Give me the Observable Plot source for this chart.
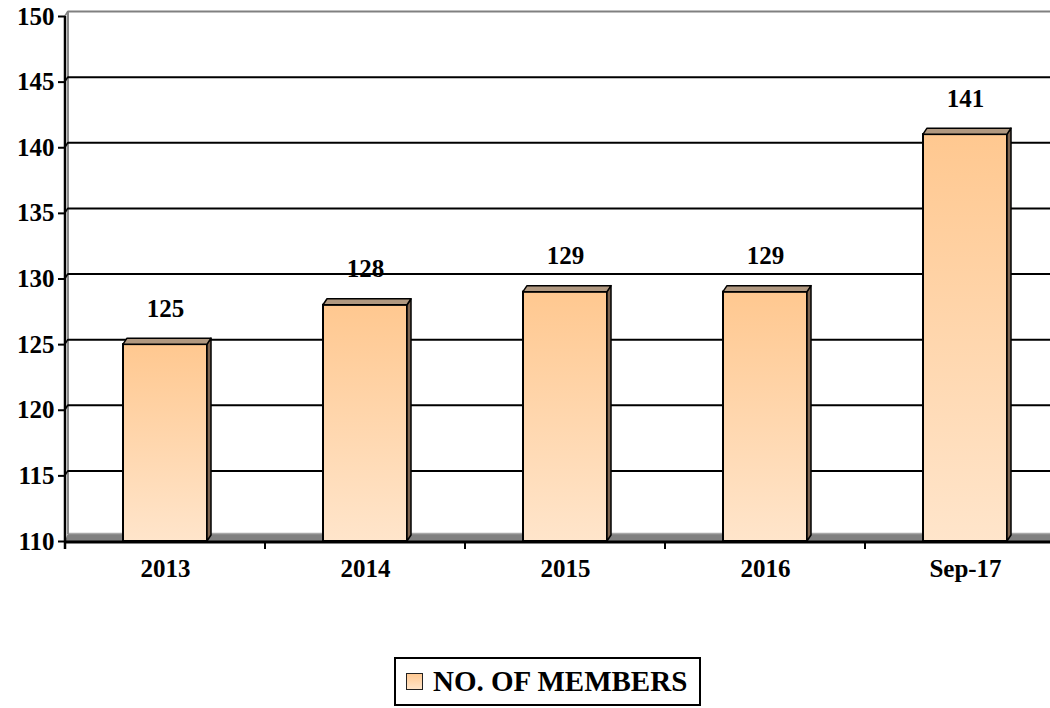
<!DOCTYPE html>
<html>
<head>
<meta charset="utf-8">
<script src="https://cdn.jsdelivr.net/npm/d3@7"></script>
<script src="https://cdn.jsdelivr.net/npm/@observablehq/plot@0.6"></script>
<style>
  html, body { margin: 0; padding: 0; background: #fff; }
  #wrap { position: relative; width: 1050px; height: 708px; overflow: hidden; }
  #wrap svg text { font-weight: bold; font-family: "Liberation Serif", "Times New Roman", serif; }
  #legend {
    position: absolute; left: 394px; top: 657px; width: 307px; height: 49px;
    box-sizing: border-box; border: 2px solid #000; background: #fff;
    font-family: "Liberation Serif", "Times New Roman", serif; font-weight: bold;
    font-size: 29px; color: #000; display: flex; align-items: center;
  }
  #legend .sw {
    width: 17px; height: 17px; box-sizing: border-box; margin-left: 10px; margin-right: 10px;
    border: 1.5px solid #222; background: linear-gradient(#ffc993, #ffe4c8);
  }
</style>
</head>
<body>
<div id="wrap"></div>
<script>
const categories = ["2013", "2014", "2015", "2016", "Sep-17"];
const members = [125, 128, 129, 129, 141];
const yTicks = [110, 115, 120, 125, 130, 135, 140, 145, 150];
const seriesName = "NO. OF MEMBERS";

const data = categories.map((c, i) => ({category: c, value: members[i]}));
const FONT = "'Liberation Serif', 'Times New Roman', serif";

const defs = () => {
  const d = d3.create("svg:defs");
  const g = d.append("linearGradient").attr("id", "barGrad").attr("x1", 0).attr("y1", 0).attr("x2", 0).attr("y2", 1);
  g.append("stop").attr("offset", "0%").attr("stop-color", "#ffc890");
  g.append("stop").attr("offset", "100%").attr("stop-color", "#ffe5cb");
  return d.node();
};

// floor and back wall edge (drawn behind bars)
const backWall = (index, scales, values, dims) => {
  const {y} = scales;
  const g = d3.create("svg:g");
  const x0 = dims.marginLeft, x1 = dims.width - dims.marginRight;
  const yb = y(yTicks[0]), yt = y(yTicks[yTicks.length - 1]);
  g.append("polygon")
    .attr("points", `${x0},${yb} ${x0 + 3},${yb - 8} ${x1 + 3},${yb - 8} ${x1},${yb}`)
    .attr("fill", "#808080");
  g.append("line").attr("x1", x0 + 3).attr("x2", x1).attr("y1", yb - 7.5).attr("y2", yb - 7.5)
    .attr("stroke", "#a8a8a8").attr("stroke-width", 1.5);
  g.append("line").attr("x1", x0 + 3).attr("x2", x0 + 3).attr("y1", yt - 5).attr("y2", yb - 7)
    .attr("stroke", "#8a8a8a").attr("stroke-width", 2);
  for (const v of yTicks.slice(1)) {
    g.append("line").attr("x1", x0).attr("x2", x0 + 3).attr("y1", y(v)).attr("y2", y(v) - 5)
      .attr("stroke", v === yTicks[yTicks.length - 1] ? "#808080" : "#000").attr("stroke-width", 1.5);
  }
  return g.node();
};

// axis lines and category boundary ticks (drawn on top)
const frontAxes = (index, scales, values, dims) => {
  const {x, y} = scales;
  const bw = typeof x.bandwidth === "function" ? x.bandwidth() : 0;
  const centers = categories.map(c => x(c) + bw / 2);
  const step = centers[1] - centers[0];
  const bounds = [centers[0] - step / 2, ...centers.map(c => c + step / 2)];
  const yb = y(yTicks[0]), yt = y(yTicks[yTicks.length - 1]);
  const g = d3.create("svg:g").attr("stroke", "#000");
  g.append("line").attr("x1", dims.marginLeft).attr("x2", dims.width).attr("y1", yb + 1).attr("y2", yb + 1)
    .attr("stroke-width", 3);
  g.append("line").attr("x1", dims.marginLeft).attr("x2", dims.marginLeft).attr("y1", yt).attr("y2", yb + 8)
    .attr("stroke-width", 2.5);
  for (const b of bounds) {
    g.append("line").attr("x1", b).attr("x2", b).attr("y1", yb).attr("y2", yb + 8).attr("stroke-width", 2);
  }
  return g.node();
};

const plot = Plot.plot({
  width: 1050,
  height: 630,
  marginTop: 16,
  marginBottom: 89,
  marginLeft: 65,
  marginRight: 0,
  style: {fontFamily: FONT, fontWeight: "bold", fontSize: "25px", background: "white", color: "#000", overflow: "visible"},
  x: {type: "band", domain: categories, range: [65, 1065], paddingInner: 0.58, paddingOuter: 0.29},
  y: {domain: [yTicks[0], yTicks[yTicks.length - 1]]},
  marks: [
    defs,
    backWall,
    Plot.ruleY(yTicks.slice(1, -1), {dx: 3, dy: -5, stroke: "#000", strokeWidth: 2}),
    Plot.ruleY(yTicks.slice(-1), {dx: 3, dy: -5, stroke: "#808080", strokeWidth: 2}),
    Plot.barY(data, {
      x: "category", y1: yTicks[0], y2: "value",
      fill: "url(#barGrad)", stroke: "#000", strokeWidth: 2,
      render(index, scales, values, dims, context, next) {
        const g = next(index, scales, values, dims, context);
        const ns = "http://www.w3.org/2000/svg";
        const dx = 4, dy = -6;
        for (const r of Array.from(g.querySelectorAll("rect"))) {
          const x = +r.getAttribute("x"), y = +r.getAttribute("y");
          const w = +r.getAttribute("width"), h = +r.getAttribute("height");
          const side = document.createElementNS(ns, "polygon");
          side.setAttribute("points", `${x + w},${y} ${x + w + dx},${y + dy} ${x + w + dx},${y + h + dy} ${x + w},${y + h}`);
          side.setAttribute("fill", "#7f6550");
          side.setAttribute("stroke", "#000");
          side.setAttribute("stroke-width", 1.5);
          side.setAttribute("stroke-linejoin", "round");
          const top = document.createElementNS(ns, "polygon");
          top.setAttribute("points", `${x},${y} ${x + dx},${y + dy} ${x + w + dx},${y + dy} ${x + w},${y}`);
          top.setAttribute("fill", "#b09880");
          top.setAttribute("stroke", "#000");
          top.setAttribute("stroke-width", 1.5);
          top.setAttribute("stroke-linejoin", "round");
          g.appendChild(side);
          g.appendChild(top);
        }
        return g;
      }
    }),
    Plot.text(data, {x: "category", y: "value", text: d => String(d.value), dy: -36,
      fontSize: 25, fontWeight: "bold", fontFamily: FONT, fill: "#000"}),
    frontAxes,
    Plot.axisY(yTicks, {tickSize: 7, tickPadding: 4, strokeWidth: 2, stroke: "#000",
      fontSize: 25, fontWeight: "bold", fontFamily: FONT, fill: "#000", label: null}),
    Plot.axisX({tickSize: 0, tickPadding: 18, fontSize: 25, fontWeight: "bold", fontFamily: FONT, fill: "#000", label: null})
  ]
});

const wrap = document.getElementById("wrap");
wrap.appendChild(plot);
const legend = document.createElement("div");
legend.id = "legend";
legend.innerHTML = `<span class="sw"></span><span></span>`;
legend.lastChild.textContent = seriesName;
wrap.appendChild(legend);
</script>
</body>
</html>
